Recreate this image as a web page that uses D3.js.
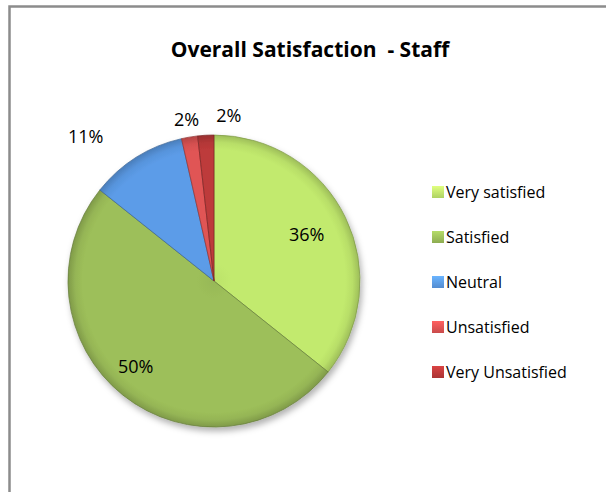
<!DOCTYPE html>
<html>
<head>
<meta charset="utf-8">
<script src="https://cdn.jsdelivr.net/npm/d3@7"></script>
<style>
    body { margin: 0; background: #fff; }
    text { font-family: "Open Sans", "Liberation Sans", sans-serif; }
</style>
</head>
<body>
<div id="chart"></div>
<script>

// survey answers (staff)
let categories = ["Very satisfied", "Satisfied", "Neutral", "Unsatisfied", "Very Unsatisfied"];
let counts = [20, 28, 6, 1, 1];
let colors = ["#c2ea6e", "#9dbf5a", "#5c9ce8", "#e05454", "#bd3a3a"];
let chartTitle = "Overall Satisfaction  - Staff";

let width = 606, height = 492;
let cx = 214, cy = 281, radius = 146;

let svg = d3.select("#chart").append("svg")
    .attr("width", width)
    .attr("height", height);

svg.append("rect")
    .attr("width", width)
    .attr("height", height)
    .attr("fill", "#fff");

// chart frame (only top and left visible in the crop)
svg.append("path")
    .attr("d", `M9.5,${height} V6.5 H${width}`)
    .attr("fill", "none")
    .attr("stroke", "#8c8c8c")
    .attr("stroke-width", 2.5);

svg.append("text")
    .attr("x", 310)
    .attr("y", 57)
    .attr("text-anchor", "middle")
    .attr("font-size", 21)
    .attr("font-weight", "bold")
    .style("white-space", "pre")
    .text(chartTitle);

let defs = svg.append("defs");

// soft shadow under the pie
let shadow = defs.append("filter")
    .attr("id", "shadow")
    .attr("x", "-20%").attr("y", "-20%")
    .attr("width", "140%").attr("height", "140%");
shadow.append("feDropShadow")
    .attr("dx", 2).attr("dy", 4)
    .attr("stdDeviation", 3)
    .attr("flood-color", "#000")
    .attr("flood-opacity", 0.3);

// bevel-ish gradient per slice: flat middle, darker rim
// (gradient is in the pie group's own space, so centred on 0,0)
colors.forEach((c, i) => {
    let g = defs.append("radialGradient")
        .attr("id", "slice" + i)
        .attr("gradientUnits", "userSpaceOnUse")
        .attr("cx", 0).attr("cy", 0).attr("r", radius);
    g.append("stop").attr("offset", "0%").attr("stop-color", d3.color(c).darker(0.1));
    g.append("stop").attr("offset", "12%").attr("stop-color", c);
    g.append("stop").attr("offset", "90%").attr("stop-color", c);
    g.append("stop").attr("offset", "95%").attr("stop-color", d3.color(c).darker(0.15));
    g.append("stop").attr("offset", "100%").attr("stop-color", d3.color(c).darker(0.6));

    let lg = defs.append("linearGradient")
        .attr("id", "key" + i)
        .attr("x1", 0).attr("y1", 0).attr("x2", 0).attr("y2", 1);
    lg.append("stop").attr("offset", "0%").attr("stop-color", d3.color(c).brighter(0.4));
    lg.append("stop").attr("offset", "100%").attr("stop-color", d3.color(c).darker(0.3));
});

let total = d3.sum(counts);
let data = categories.map((name, i) => ({name: name, value: counts[i], idx: i}));

let pie = d3.pie()
    .sort(null)
    .value(d => d.value);

let arc = d3.arc()
    .innerRadius(0)
    .outerRadius(radius);

let arcs = pie(data);

let pieG = svg.append("g")
    .attr("transform", `translate(${cx},${cy})`)
    .attr("filter", "url(#shadow)");

pieG.selectAll("path")
    .data(arcs)
    .enter()
    .append("path")
    .attr("d", arc)
    .attr("fill", d => `url(#slice${d.data.idx})`)
    .attr("stroke", d => d3.color(colors[d.data.idx]).darker(1.2))
    .attr("stroke-width", 0.7)
    .attr("stroke-linejoin", "round");

// data labels: big slices inside, small ones outside,
// then nudged the way Excel's best fit spreads them
let fmt = d => Math.round(d.value / total * 100) + "%";
let insideArc = d3.arc().innerRadius(radius * 0.75).outerRadius(radius * 0.75);
let outsideArc = d3.arc().innerRadius(radius + 18).outerRadius(radius + 18);
let nudge = [[-6, 1], [-10, 0], [-41, -5], [0, 0], [24, -2]];

let labels = svg.append("g")
    .attr("transform", `translate(${cx},${cy})`);

arcs.forEach(d => {
    let inside = d.value / total > 0.2;
    let p = inside ? insideArc.centroid(d) : outsideArc.centroid(d);
    let n = nudge[d.data.idx];
    labels.append("text")
        .attr("x", p[0] + n[0])
        .attr("y", p[1] + n[1])
        .attr("dy", "0.35em")
        .attr("text-anchor", "middle")
        .attr("font-size", 18)
        .attr("fill", "#000")
        .text(fmt(d));
});

// legend
let legend = svg.append("g")
    .attr("transform", "translate(432,186)");

let rowGap = 45;

let items = legend.selectAll("g")
    .data(data)
    .enter()
    .append("g")
    .attr("transform", (d, i) => `translate(0,${i * rowGap})`);

items.append("rect")
    .attr("width", 12)
    .attr("height", 12)
    .attr("fill", d => `url(#key${d.idx})`);

items.append("text")
    .attr("x", 14)
    .attr("y", 12)
    .attr("font-size", 16)
    .attr("fill", "#000")
    .text(d => d.name);

</script>
</body>
</html>
